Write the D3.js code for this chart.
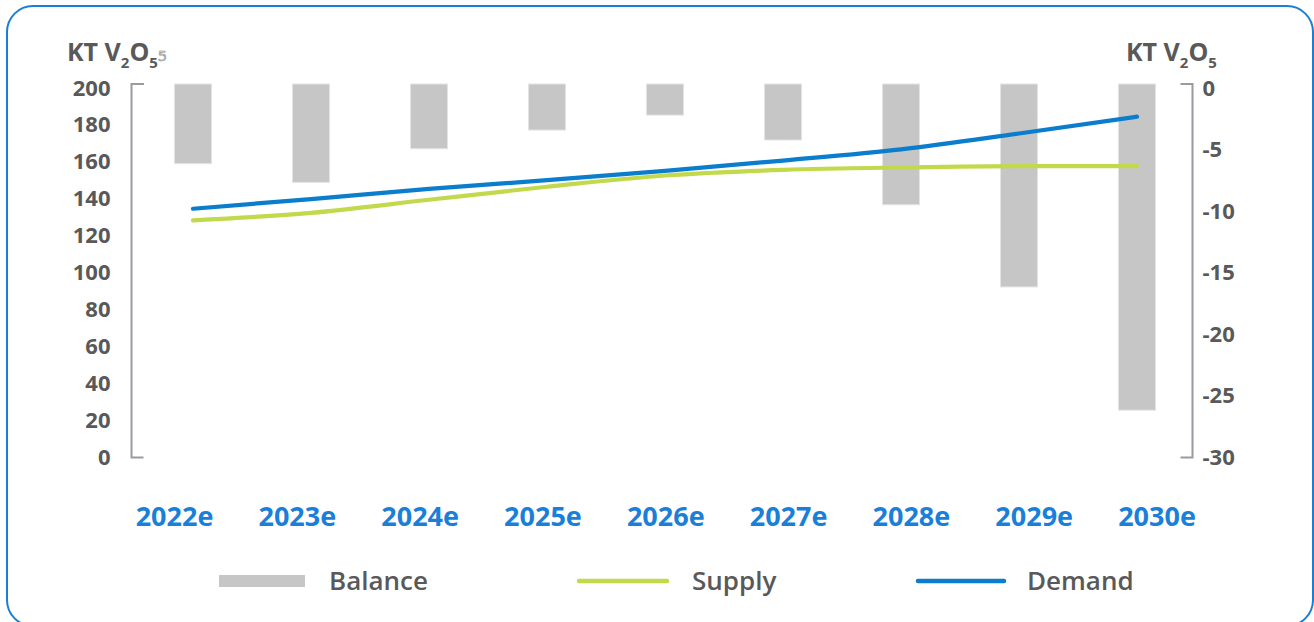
<!DOCTYPE html>
<html>
<head>
<meta charset="utf-8">
<script src="https://cdn.jsdelivr.net/npm/d3@7"></script>
<style>
  html, body { margin: 0; padding: 0; background: #fff; }
  svg { display: block; font-family: "Open Sans", "Noto Sans", sans-serif; }
</style>
</head>
<body>
<svg id="chart" width="1314" height="622"></svg>
<script>
// Vanadium market outlook, kilotonnes V2O5
const years   = ["2022e", "2023e", "2024e", "2025e", "2026e", "2027e", "2028e", "2029e", "2030e"];
const demand  = [133.2, 138.4, 143.8, 148.5, 153.5, 159.0, 165.0, 173.5, 182.5];
const supply  = [127.0, 131.0, 138.0, 145.0, 151.0, 154.0, 155.3, 156.0, 156.0];
const balance = [-6.4, -7.9, -5.2, -3.7, -2.5, -4.5, -9.7, -16.3, -26.2];
const leftTicks  = [0, 20, 40, 60, 80, 100, 120, 140, 160, 180, 200];
const rightTicks = [0, -5, -10, -15, -20, -25, -30];

const svg = d3.select("#chart");
const axisGrey = "#9a9aa2";
const textGrey = "#595959";
const blue = "#0a7dcc";
const green = "#c2d94b";
const barGrey = "#c6c6c6";

// frame
svg.append("rect")
  .attr("x", 7).attr("y", 6).attr("width", 1306).attr("height", 620)
  .attr("rx", 26).attr("ry", 26)
  .attr("fill", "none").attr("stroke", "#1a7fd4").attr("stroke-width", 2);

const plotTop = 84, plotBottom = 457.5, leftX = 131.5, rightX = 1192.5;

const x = d3.scaleBand().domain(years).range([134, 1196]).paddingInner(0.686).paddingOuter(0.343);
const xLabel = d3.scalePoint().domain(years).range([174.5, 1157]);
const yL = d3.scaleLinear().domain([0, 200]).range([plotBottom, plotTop]);
const yR = d3.scaleLinear().domain([-30, 0]).range([plotBottom, plotTop]);
// tick labels sit slightly inside the axis span
const yLText = yL.copy().range([plotBottom, plotTop + 4]);
const yRText = yR.copy().range([plotBottom, plotTop + 4]);

// bars (balance, right axis, hanging from zero)
svg.append("g").selectAll("rect")
  .data(years.map((d, i) => ({ year: d, v: balance[i] })))
  .join("rect")
  .attr("x", d => x(d.year))
  .attr("width", x.bandwidth())
  .attr("y", yR(0))
  .attr("height", d => yR(d.v) - yR(0))
  .attr("fill", barGrey)
  .attr("stroke", "#e4e4e4").attr("stroke-width", 1);

// left axis
const leftAxis = d3.axisLeft(yLText).tickValues(leftTicks).tickSize(0).tickPadding(21);
const gl = svg.append("g").attr("transform", `translate(${leftX},0)`).call(leftAxis);
gl.select(".domain").remove();
gl.selectAll("text")
  .attr("font-size", 22).attr("font-weight", 700).attr("fill", textGrey)
  .attr("font-family", "'Open Sans', sans-serif");
svg.append("path")
  .attr("d", `M${leftX + 12.5},${plotTop}H${leftX}V${plotBottom}H${leftX + 12}`)
  .attr("fill", "none").attr("stroke", axisGrey).attr("stroke-width", 2);

// right axis
const rightAxis = d3.axisRight(yRText).tickValues(rightTicks).tickSize(0).tickPadding(10)
  .tickFormat(d3.format("d"));
const gr = svg.append("g").attr("transform", `translate(${rightX},0)`).call(rightAxis);
gr.select(".domain").remove();
gr.selectAll("text")
  .attr("font-size", 22).attr("font-weight", 700).attr("fill", textGrey)
  .attr("font-family", "'Open Sans', sans-serif")
  .text(d => d === 0 ? "0" : "-" + Math.abs(d));
svg.append("path")
  .attr("d", `M${rightX - 12},${plotTop}H${rightX}V${plotBottom}H${rightX - 12}`)
  .attr("fill", "none").attr("stroke", axisGrey).attr("stroke-width", 2);

// category labels
svg.append("g").selectAll("text")
  .data(years).join("text")
  .attr("x", d => xLabel(d)).attr("y", 526)
  .attr("text-anchor", "middle")
  .attr("font-size", 27).attr("font-weight", 700).attr("fill", "#1a7fd9")
  .text(d => d);

// lines
const line = vals => d3.line()
  .x((d, i) => x(years[i]) + x.bandwidth() / 2)
  .y(d => yL(d))
  .curve(d3.curveMonotoneX)(vals);

svg.append("path").attr("d", line(supply))
  .attr("fill", "none").attr("stroke", green).attr("stroke-width", 4.2).attr("stroke-linecap", "round");
svg.append("path").attr("d", line(demand))
  .attr("fill", "none").attr("stroke", blue).attr("stroke-width", 4.2).attr("stroke-linecap", "round");

// unit titles
function unitTitle(xPos, extra) {
  const t = svg.append("text").attr("x", xPos).attr("y", 61)
    .attr("font-size", 25).attr("font-weight", 700).attr("fill", textGrey);
  t.append("tspan").text("KT V");
  t.append("tspan").attr("font-size", 15).attr("dy", 7).text("2");
  t.append("tspan").attr("dy", -7).text("O");
  t.append("tspan").attr("font-size", 15).attr("dy", 7).text("5");
  if (extra) {
    t.append("tspan").attr("font-size", 15).attr("font-weight", 400).attr("fill", "none")
      .attr("stroke", "#8a8a8a").attr("stroke-width", 0.7).attr("dy", -7).text("5");
  }
}
unitTitle(67, true);
unitTitle(1126, false);

// legend
const legY = 581;
svg.append("rect").attr("x", 219).attr("y", legY - 6).attr("width", 86).attr("height", 12).attr("fill", barGrey);
svg.append("line").attr("x1", 579).attr("x2", 667).attr("y1", legY).attr("y2", legY)
  .attr("stroke", green).attr("stroke-width", 4.5).attr("stroke-linecap", "round");
svg.append("line").attr("x1", 918).attr("x2", 1004).attr("y1", legY).attr("y2", legY)
  .attr("stroke", blue).attr("stroke-width", 4.5).attr("stroke-linecap", "round");
[["Balance", 329], ["Supply", 692], ["Demand", 1027]].forEach(([label, lx]) => {
  svg.append("text").attr("x", lx).attr("y", legY + 9)
    .attr("font-size", 26).attr("font-weight", 600).attr("fill", textGrey).text(label);
});
</script>
</body>
</html>
